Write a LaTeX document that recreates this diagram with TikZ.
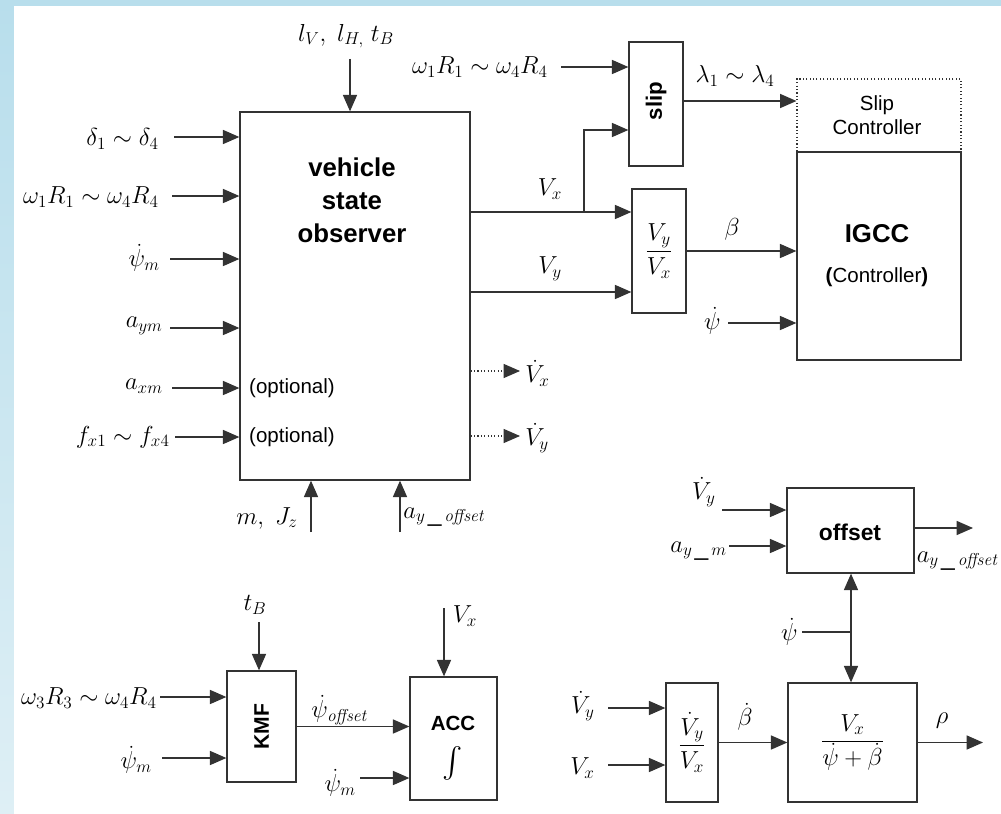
\RequirePackage{fix-cm}
\documentclass[tikz,border=0pt]{standalone}
\usepackage[no-math]{fontspec}
\setmainfont{Liberation Sans}
\usetikzlibrary{arrows.meta}
\begin{document}
\begin{tikzpicture}[x=0.03cm,y=-0.03cm,
  box/.style={draw=black!80,line width=1.1pt,inner sep=0pt,font=\fontsize{21}{25}\selectfont},
  dotbox/.style={draw=black!80,line width=0.9pt,dotted,inner sep=0pt},
  line/.style={draw=black!80,line width=1.1pt},
  arr/.style={line,-{Triangle[length=14pt,width=12pt]}},
  darr/.style={line,{Triangle[length=14pt,width=12pt]}-{Triangle[length=14pt,width=12pt]}},
  dotarr/.style={draw=black!80,line width=0.9pt,dotted,-{Triangle[length=14pt,width=12pt]}},
  mlbl/.style={inner sep=1pt,font=\fontsize{21}{25}\selectfont},
  tlbl/.style={inner sep=0pt,font=\fontsize{17.5}{21}\selectfont,align=center},
  btxt/.style={inner sep=0pt,font=\fontsize{22}{28}\selectfont\bfseries,align=center}
]
\useasboundingbox (0,0) rectangle (1001,814);
\shade[top color={rgb,255:red,184;green,222;blue,236},bottom color={rgb,255:red,222;green,239;blue,245}] (0,0) rectangle (1001,814);
\fill[white] (14,6) rectangle (1001,814);

% ---------------- vehicle state observer ----------------
\node[box,minimum width=6.9cm,minimum height=11.04cm] (obs) at (355,296) {};
\node[btxt] (obstxt) at (352,200) {vehicle\\state\\observer};
\node[tlbl,anchor=west] (opt1) at (249,388) {(optional)};
\node[tlbl,anchor=west] (opt2) at (249,437) {(optional)};

\coordinate (in1) at (174,137);
\node[mlbl,anchor=east] (lin1) at (160,139) {$\delta_1\sim\delta_4$};
\draw[arr] (in1) -- (obs.west |- in1);
\coordinate (in2) at (172,196);
\node[mlbl,anchor=east] (lin2) at (160,197) {$\omega_1R_1\sim\omega_4R_4$};
\draw[arr] (in2) -- (obs.west |- in2);
\coordinate (in3) at (170,259);
\node[mlbl,anchor=east] (lin3) at (161,258) {$\dot\psi_m$};
\draw[arr] (in3) -- (obs.west |- in3);
\coordinate (in4) at (170,328);
\node[mlbl,anchor=east] (lin4) at (164,326) {$a_{ym}$};
\draw[arr] (in4) -- (obs.west |- in4);
\coordinate (in5) at (172,388);
\node[mlbl,anchor=east] (lin5) at (164,386) {$a_{xm}$};
\draw[arr] (in5) -- (obs.west |- in5);
\coordinate (in6) at (175,437);
\node[mlbl,anchor=east] (lin6) at (171,437) {$f_{x1}\sim f_{x4}$};
\draw[arr] (in6) -- (obs.west |- in6);

\coordinate (lv) at (350,59);
\node[mlbl] (llv) at (346,36) {$l_V,\ l_{H,}\ t_B$};
\draw[arr] (lv) -- (obs.north -| lv);
\coordinate (mj) at (311,532);
\node[mlbl] (lmj) at (267,518) {$m,\ J_z$};
\draw[arr] (mj) -- (obs.south -| mj);
\coordinate (ao) at (400,532);
\node[mlbl,anchor=west] (lao) at (402,517) {$a_{y\,\_\,\mathit{offset}}$};
\draw[arr] (ao) -- (obs.south -| ao);

% ---------------- slip / Vy/Vx ----------------
\node[box,minimum width=1.62cm,minimum height=3.72cm] (slip) at (656,104) {};
\node[btxt,rotate=90,font=\fontsize{19}{22}\selectfont\bfseries] (sliptxt) at (656,101) {slip};
\coordinate (w2) at (561,67);
\node[mlbl,anchor=east] (lw2) at (549,67) {$\omega_1R_1\sim\omega_4R_4$};
\draw[arr] (w2) -- (slip.west |- w2);

\node[box,minimum width=1.62cm,minimum height=3.72cm] (vyvx) at (659,251) {$\displaystyle\frac{V_y}{V_x}$};

\draw[arr] (obs.east |- 0,212) -- (vyvx.west |- 0,212);
\node[mlbl] (lvx) at (550,189) {$V_x$};
\coordinate (br) at (584,212);
\draw[arr] (br) |- (slip.west |- 0,130);
\draw[arr] (obs.east |- 0,292) -- (vyvx.west |- 0,292);
\node[mlbl] (lvy) at (550,269) {$V_y$};

\coordinate (vdx) at (520,371);
\draw[dotarr] (obs.east |- vdx) -- (vdx);
\node[mlbl,anchor=west] (lvdx) at (524,373) {$\dot V_x$};
\coordinate (vdy) at (520,436);
\draw[dotarr] (obs.east |- vdy) -- (vdy);
\node[mlbl,anchor=west] (lvdy) at (524,438) {$\dot V_y$};

% ---------------- IGCC ----------------
\node[dotbox,minimum width=4.92cm,minimum height=2.19cm] (slipc) at (879,115.5) {};
\node[box,minimum width=4.92cm,minimum height=6.24cm] (igcc) at (879,256) {};
\node[tlbl] (slipctxt) at (877,115) {Slip\\Controller};
\node[btxt] (igcctxt) at (877,234) {IGCC};
\node[tlbl] (ctrltxt) at (877,277) {{\bfseries(}Controller{\bfseries)}};

\draw[arr] (slip.east |- 0,101) -- (slipc.west |- 0,101);
\node[mlbl] (llam) at (735,76) {$\lambda_1\sim\lambda_4$};
\draw[arr] (vyvx.east) -- (igcc.west |- vyvx.east);
\node[mlbl] (lbeta) at (732,229) {$\beta$};
\coordinate (p1) at (728,323);
\node[mlbl,anchor=east] (lp1) at (722,321) {$\dot\psi$};
\draw[arr] (p1) -- (igcc.west |- p1);

% ---------------- offset ----------------
\node[box,minimum width=3.81cm,minimum height=2.55cm] (offset) at (850.5,530.5) {};
\node[btxt,font=\fontsize{19.5}{23}\selectfont\bfseries] (offtxt) at (850,532) {offset};
\coordinate (o1) at (722,510);
\node[mlbl,anchor=east] (lo1) at (717,492) {$\dot V_y$};
\draw[arr] (o1) -- (offset.west |- o1);
\coordinate (o2) at (729,546);
\node[mlbl,anchor=east] (lo2) at (728,551) {$a_{y\,\_\,m}$};
\draw[arr] (o2) -- (offset.west |- o2);
\coordinate (o3) at (973,528);
\draw[arr] (offset.east |- o3) -- (o3);
\node[mlbl] (lo3) at (958,561) {$a_{y\,\_\,\mathit{offset}}$};

% ---------------- rho ----------------
\node[box,minimum width=1.56cm,minimum height=3.57cm] (vdvx) at (692,742.5) {$\displaystyle\frac{\dot V_y}{V_x}$};
\node[box,minimum width=3.87cm,minimum height=3.57cm] (form) at (852.5,742.5) {$\displaystyle\frac{V_x}{\dot\psi+\dot\beta}$};
\draw[darr] (offset.south -| 851,0) -- (form.north -| 851,0);
\coordinate (p2) at (802,632);
\coordinate (j2) at (851,632);
\draw[line] (p2) -- (j2);
\node[mlbl,anchor=east] (lp2) at (799,632) {$\dot\psi$};

\coordinate (b1) at (608,708);
\node[mlbl,anchor=east] (lb1) at (596,706) {$\dot V_y$};
\draw[arr] (b1) -- (vdvx.west |- b1);
\coordinate (b2) at (608,765);
\node[mlbl,anchor=east] (lb2) at (596,768) {$V_x$};
\draw[arr] (b2) -- (vdvx.west |- b2);
\draw[arr] (vdvx.east) -- (form.west);
\node[mlbl] (lbd) at (745,717) {$\dot\beta$};
\coordinate (b3) at (983,742.5);
\draw[arr] (form.east) -- (b3);
\node[mlbl] (lrho) at (942,721) {$\rho$};

% ---------------- KMF / ACC ----------------
\node[box,minimum width=2.07cm,minimum height=3.33cm] (kmf) at (261.5,726.5) {};
\node[btxt,rotate=90,font=\fontsize{18}{22}\selectfont\bfseries] (kmftxt) at (261.5,726.5) {KMF};
\node[box,minimum width=2.61cm,minimum height=3.69cm] (acc) at (453.5,738.5) {};
\node[btxt,font=\fontsize{17.5}{21}\selectfont\bfseries] (acctxt) at (453,723) {ACC};
\node[inner sep=0pt,scale=2.6] (inttxt) at (453,763) {$\int$};

\coordinate (k1) at (259,622);
\node[mlbl] (lk1) at (255,605) {$t_B$};
\draw[arr] (k1) -- (kmf.north -| k1);
\coordinate (k2) at (160,697);
\node[mlbl,anchor=east] (lk2) at (158,698) {$\omega_3R_3\sim\omega_4R_4$};
\draw[arr] (k2) -- (kmf.west |- k2);
\coordinate (k3) at (162,758);
\node[mlbl,anchor=east] (lk3) at (153,760) {$\dot\psi_m$};
\draw[arr] (k3) -- (kmf.west |- k3);
\draw[arr] (kmf.east) -- (acc.west |- kmf.east);
\node[mlbl] (lpo) at (340,710) {$\dot\psi_{\mathit{offset}}$};

\coordinate (a1) at (444,608);
\node[mlbl] (la1) at (465,616) {$V_x$};
\draw[arr] (a1) -- (acc.north -| a1);
\coordinate (a2) at (360,778);
\node[mlbl,anchor=east] (la2) at (357,783) {$\dot\psi_m$};
\draw[arr] (a2) -- (acc.west |- a2);
\end{tikzpicture}
\end{document}
